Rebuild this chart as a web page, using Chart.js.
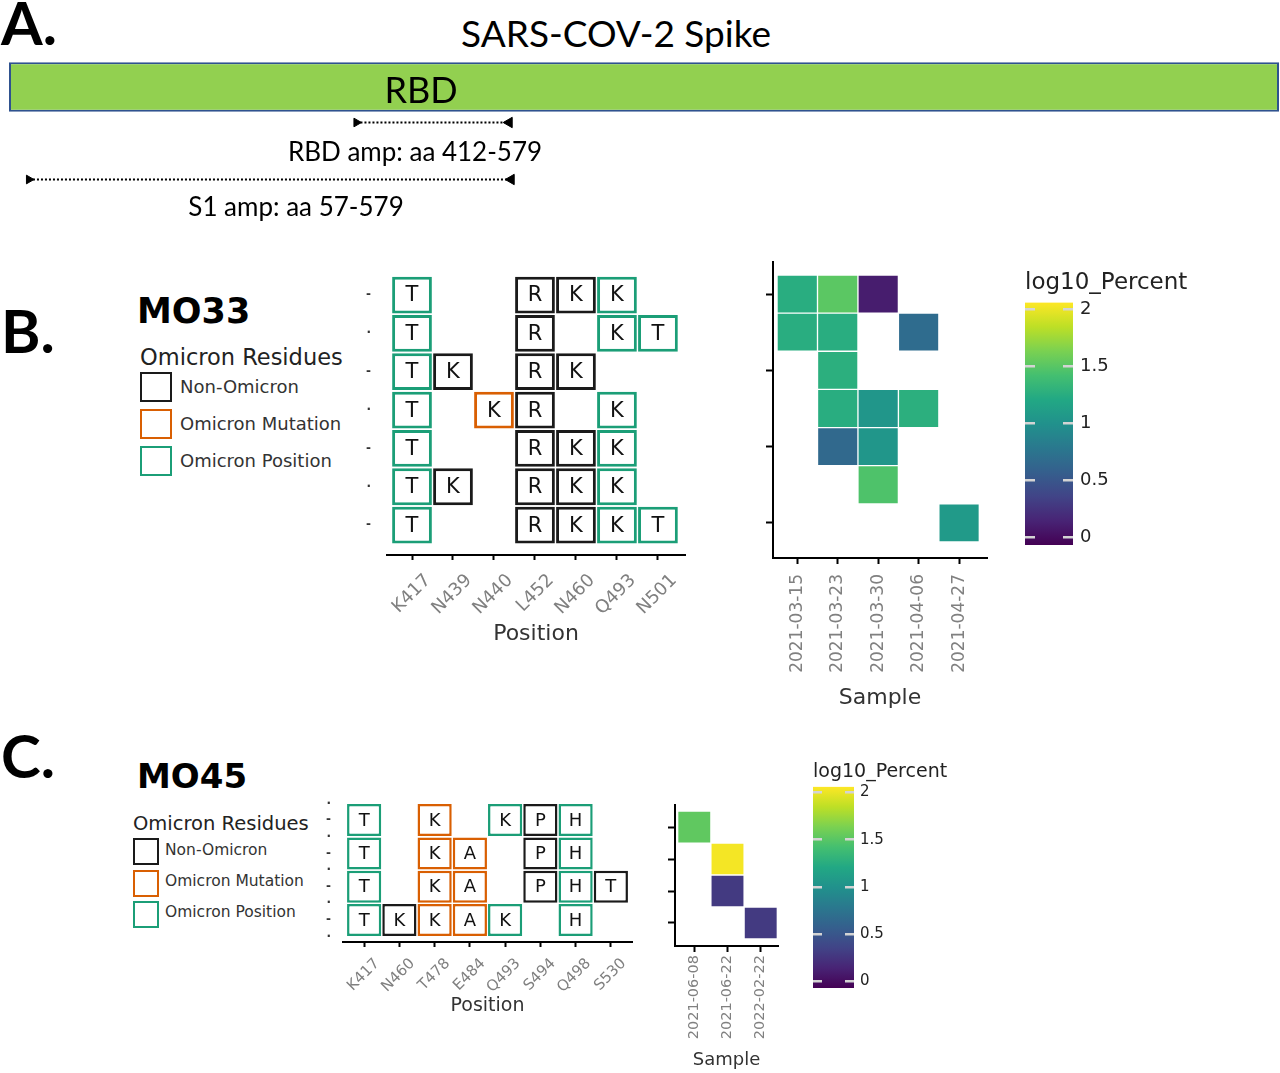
<!DOCTYPE html>
<html>
<head>
<meta charset="utf-8">
<script src="https://cdn.jsdelivr.net/npm/chart.js@4.4.0/dist/chart.umd.min.js"></script>
<style>
  body { margin: 0; width: 1280px; height: 1073px; position: relative; overflow: hidden; background: #fff; font-family: 'DejaVu Sans', sans-serif; }
  canvas { position: absolute; }
  .t { position: absolute; white-space: nowrap; line-height: 1; }
  .lato { font-family: Lato, 'Open Sans', sans-serif; }
  .c { transform: translateX(-50%); }
  .box { position: absolute; box-sizing: border-box; background: #fff; }
</style>
</head>
<body>
<!-- panel A -->
<div class="t lato" style="left:1px;top:-8px;font-size:60px;font-weight:bold;">A.</div>
<div class="t lato c" style="left:616px;top:14px;font-size:37px;">SARS-COV-2 Spike</div>
<canvas id="spike" width="1280" height="64" style="left:0;top:55px"></canvas>
<div class="t lato c" style="left:421px;top:71px;font-size:36px;">RBD</div>
<canvas id="amps" width="1280" height="114" style="left:0;top:94px"></canvas>
<div class="t lato c" style="left:415px;top:138px;font-size:26px;">RBD amp: aa 412-579</div>
<div class="t lato c" style="left:296px;top:193px;font-size:26px;">S1 amp: aa 57-579</div>

<!-- panel B -->
<div class="t lato" style="left:1px;top:300px;font-size:60px;font-weight:bold;">B.</div>
<div class="t" style="left:137px;top:294px;font-size:35px;font-weight:bold;">MO33</div>
<div class="t" style="left:140px;top:346px;font-size:22.5px;color:#222;">Omicron Residues</div>
<div class="box" style="left:140px;top:372px;width:32px;height:30px;border:2.5px solid #1a1a1a"></div>
<div class="box" style="left:140px;top:409px;width:32px;height:30px;border:2.5px solid #d95f02"></div>
<div class="box" style="left:140px;top:446px;width:32px;height:30px;border:2.5px solid #1b9e77"></div>
<div class="t" style="left:180px;top:378px;font-size:18px;color:#333;">Non-Omicron</div>
<div class="t" style="left:180px;top:415px;font-size:18px;color:#333;">Omicron Mutation</div>
<div class="t" style="left:180px;top:452px;font-size:18px;color:#333;">Omicron Position</div>
<canvas id="gridB" width="330" height="392" style="left:365px;top:255px"></canvas>
<canvas id="heatB" width="255" height="456" style="left:740px;top:255px"></canvas>
<canvas id="cbarB" width="190" height="276" style="left:1025px;top:269px"></canvas>

<!-- panel C -->
<div class="t lato" style="left:1px;top:725px;font-size:60px;font-weight:bold;">C.</div>
<div class="t" style="left:137px;top:759px;font-size:34px;font-weight:bold;">MO45</div>
<div class="t" style="left:133px;top:814px;font-size:19.5px;color:#222;">Omicron Residues</div>
<div class="box" style="left:133px;top:838px;width:26px;height:27px;border:2.5px solid #1a1a1a"></div>
<div class="box" style="left:133px;top:870px;width:26px;height:27px;border:2.5px solid #d95f02"></div>
<div class="box" style="left:133px;top:901px;width:26px;height:27px;border:2.5px solid #1b9e77"></div>
<div class="t" style="left:165px;top:843px;font-size:15.5px;color:#333;">Non-Omicron</div>
<div class="t" style="left:165px;top:874px;font-size:15.5px;color:#333;">Omicron Mutation</div>
<div class="t" style="left:165px;top:905px;font-size:15.5px;color:#333;">Omicron Position</div>
<canvas id="gridC" width="327" height="222" style="left:315px;top:795px"></canvas>
<canvas id="heatC" width="140" height="273" style="left:645px;top:798px"></canvas>
<canvas id="cbarC" width="170" height="227" style="left:813px;top:761px"></canvas>

<script>
// ---- panel A: spike schematic ----
const spikeRange = [1, 1273];
const ampNames = ['RBD amp', 'S1 amp'];
const ampAa = [[412, 579], [57, 579]];      // what the labels say
const ampDrawn = [[349, 502], [21, 504]];   // arrows are schematic, extents as drawn on the bar (aa units)

// ---- panel B: MO33 ----
const positionsB = ['K417', 'N439', 'N440', 'L452', 'N460', 'Q493', 'N501'];
const residuesB = [
  ['T', '', '', 'R', 'K', 'K', ''],
  ['T', '', '', 'R', '', 'K', 'T'],
  ['T', 'K', '', 'R', 'K', '', ''],
  ['T', '', 'K', 'R', '', 'K', ''],
  ['T', '', '', 'R', 'K', 'K', ''],
  ['T', 'K', '', 'R', 'K', 'K', ''],
  ['T', '', '', 'R', 'K', 'K', 'T']
];
// N = non-omicron, M = omicron mutation, P = omicron position
const statusB = [
  ['P', '', '', 'N', 'N', 'P', ''],
  ['P', '', '', 'N', '', 'P', 'P'],
  ['P', 'N', '', 'N', 'N', '', ''],
  ['P', '', 'M', 'N', '', 'P', ''],
  ['P', '', '', 'N', 'N', 'P', ''],
  ['P', 'N', '', 'N', 'N', 'P', ''],
  ['P', '', '', 'N', 'N', 'P', 'P']
];
const rowLabelsB = ['-', '·', '-', '·', '-', '·', '-'];
const samplesB = ['2021-03-15', '2021-03-23', '2021-03-30', '2021-04-06', '2021-04-27'];
const log10PctB = [
  [1.25, 1.51, 0.10, null, null],
  [1.25, 1.25, null, 0.68, null],
  [null, 1.27, null, null, null],
  [null, 1.25, 1.04, 1.27, null],
  [null, 0.65, 1.04, null, null],
  [null, null, 1.46, null, null],
  [null, null, null, null, 1.08]
];

// ---- panel C: MO45 ----
const positionsC = ['K417', 'N460', 'T478', 'E484', 'Q493', 'S494', 'Q498', 'S530'];
const residuesC = [
  ['T', '', 'K', '', 'K', 'P', 'H', ''],
  ['T', '', 'K', 'A', '', 'P', 'H', ''],
  ['T', '', 'K', 'A', '', 'P', 'H', 'T'],
  ['T', 'K', 'K', 'A', 'K', '', 'H', '']
];
const statusC = [
  ['P', '', 'M', '', 'P', 'N', 'P', ''],
  ['P', '', 'M', 'M', '', 'N', 'P', ''],
  ['P', '', 'M', 'M', '', 'N', 'P', 'N'],
  ['P', 'N', 'M', 'M', 'P', '', 'P', '']
];
const rowLabelsC = ['·', '-', '·', '-', '·', '-', '·', '-', '·'];  // half-row steps
const samplesC = ['2021-06-08', '2021-06-22', '2022-02-22'];
const log10PctC = [
  [1.53, null, null],
  [null, 2.03, null],
  [null, 0.29, null],
  [null, null, 0.29]
];

// colour bar
const cbLimits = [-0.07, 2.06];
const cbTicks = [0, 0.5, 1, 1.5, 2];

const residueColors = { N: '#1a1a1a', M: '#d95f02', P: '#1b9e77' };
const viridisStops = ['#440154', '#482475', '#414487', '#355f8d', '#2a788e', '#21918c',
                      '#22a884', '#44bf70', '#7ad151', '#bddf26', '#fde725'];
const FONT = 'DejaVu Sans';

function hexRgb(h) {
  return [1, 3, 5].map(i => parseInt(h.substr(i, 2), 16));
}
function viridis(t) {
  t = Math.min(1, Math.max(0, t));
  const p = t * (viridisStops.length - 1);
  const i = Math.min(Math.floor(p), viridisStops.length - 2);
  const f = p - i;
  const a = hexRgb(viridisStops[i]), b = hexRgb(viridisStops[i + 1]);
  const c = a.map((v, k) => Math.round(v + (b[k] - v) * f));
  return `rgb(${c[0]},${c[1]},${c[2]})`;
}

function noPad(s) {
  s.paddingLeft = 0; s.paddingRight = 0; s.paddingTop = 0; s.paddingBottom = 0;
}

const base = {
  responsive: false,
  animation: false,
  events: [],
  plugins: { legend: { display: false }, tooltip: { enabled: false } }
};

// letters written in the middle of each residue box
const residueLetters = {
  id: 'residueLetters',
  afterDatasetsDraw(chart, args, opts) {
    const ctx = chart.ctx;
    const ds = chart.data.datasets[0];
    ctx.save();
    ctx.font = opts.size + 'px "' + FONT + '"';
    ctx.fillStyle = '#111';
    ctx.textAlign = 'center';
    ctx.textBaseline = 'middle';
    chart.getDatasetMeta(0).data.forEach((bar, i) => {
      const p = bar.getCenterPoint();
      ctx.fillText(ds.data[i].aa, p.x, p.y + 1);
    });
    ctx.restore();
  }
};

// --- panel A charts ---
new Chart(document.getElementById('spike'), {
  type: 'bar',
  data: {
    labels: ['Spike'],
    datasets: [{
      data: [spikeRange],
      backgroundColor: '#92d050',
      borderColor: '#2f528f',
      borderWidth: 2,
      borderSkipped: false,
      barPercentage: 0.77,
      categoryPercentage: 1
    }]
  },
  options: {
    ...base,
    indexAxis: 'y',
    layout: { autoPadding: false, padding: { left: 9, right: 1 } },
    scales: {
      x: { type: 'linear', display: false, min: spikeRange[0], max: spikeRange[1] },
      y: { display: false }
    }
  }
});

new Chart(document.getElementById('amps'), {
  type: 'scatter',
  data: {
    datasets: ampNames.map((name, k) => ({
      label: name + ' (aa ' + ampAa[k].join('-') + ')',
      data: ampDrawn[k].map(x => ({ x: x, y: name })),
      showLine: true,
      borderColor: '#000',
      borderWidth: 2,
      borderDash: [2, 2],
      pointStyle: 'triangle',
      rotation: [90, -90],
      pointRadius: [5, 6],
      pointBackgroundColor: '#000',
      pointBorderColor: '#000',
      pointBorderWidth: 1
    }))
  },
  options: {
    ...base,
    layout: { autoPadding: false, padding: { left: 9, right: 1 } },
    scales: {
      x: { type: 'linear', display: false, min: spikeRange[0], max: spikeRange[1] },
      y: { type: 'category', labels: ampNames, offset: true, display: false }
    }
  }
});

// --- residue grid (panels B, C) ---
function residueGrid(id, positions, residues, status, rowLabels, o) {
  const cells = [];
  residues.forEach((row, r) => row.forEach((aa, c) => {
    if (aa) cells.push({ x: [c - 0.485, c + 0.485], y: r + 1, aa: aa, st: status[r][c] });
  }));
  return new Chart(document.getElementById(id), {
    type: 'bar',
    data: {
      datasets: [{
        data: cells,
        xAxisID: 'x',
        yAxisID: 'y',
        backgroundColor: '#fff',
        borderColor: ctx => ctx.raw ? residueColors[ctx.raw.st] : '#000',
        borderWidth: o.border,
        borderSkipped: false,
        barPercentage: 0.96,
        categoryPercentage: 1
      }]
    },
    options: {
      ...base,
      indexAxis: 'y',
      layout: { autoPadding: false, padding: { right: o.padRight } },
      plugins: { ...base.plugins, residueLetters: { size: o.letterSize } },
      scales: {
        x: {
          type: 'linear', min: o.xMin, max: o.xMax, offset: false,
          afterBuildTicks: s => { s.ticks = positions.map((p, i) => ({ value: i })); },
          ticks: {
            callback: (v, i) => positions[i], autoSkip: false, minRotation: 45, maxRotation: 45,
            labelOffset: o.labelShift,
            color: '#808080', font: { family: FONT, size: o.tickSize }, padding: o.tickPad
          },
          grid: { offset: false, drawOnChartArea: false, tickLength: 5, color: '#000', tickWidth: 2 },
          border: { color: '#000', width: 2 },
          title: { display: true, text: 'Position', color: '#333', font: { family: FONT, size: o.titleSize }, padding: 0 },
          afterFit: s => { s.height = o.xHeight; noPad(s); }
        },
        y: {
          type: 'linear', display: false, reverse: true, min: o.yMin, max: o.yMax, offset: false,
          afterBuildTicks: s => { s.ticks = []; }
        },
        yRows: {
          axis: 'y', type: 'linear', position: 'left', reverse: true, min: o.yMin, max: o.yMax, offset: false,
          afterBuildTicks: s => { s.ticks = rowLabels.map((l, i) => ({ value: o.rowStart + i * o.rowStep })); },
          ticks: { callback: (v, i) => rowLabels[i], color: '#333', font: { family: FONT, size: 12, weight: 'bold' }, padding: o.rowPad },
          grid: { display: false, offset: false },
          border: { display: false },
          afterFit: s => { s.width = o.yWidth; noPad(s); }
        }
      }
    },
    plugins: [residueLetters]
  });
}

// --- log10 percent heatmap ---
function heatmap(id, samples, values, o) {
  const cells = [];
  values.forEach((row, r) => row.forEach((v, c) => {
    if (v !== null) cells.push({ x: [c - 0.5, c + 0.5], y: r + 1, v: v });
  }));
  return new Chart(document.getElementById(id), {
    type: 'bar',
    data: {
      datasets: [{
        data: cells,
        backgroundColor: ctx => ctx.raw ? viridis((ctx.raw.v - cbLimits[0]) / (cbLimits[1] - cbLimits[0])) : '#fff',
        borderColor: 'rgba(255,255,255,0.35)',
        borderWidth: 1,
        borderSkipped: false,
        barPercentage: 1,
        categoryPercentage: 1
      }]
    },
    options: {
      ...base,
      indexAxis: 'y',
      layout: { autoPadding: false, padding: { top: o.padTop, right: o.padRight } },
      scales: {
        x: {
          type: 'linear', min: o.xMin, max: o.xMax, offset: false,
          afterBuildTicks: s => { s.ticks = samples.map((p, i) => ({ value: i })); },
          ticks: {
            callback: (v, i) => samples[i], autoSkip: false, minRotation: 90, maxRotation: 90,
            color: '#808080', font: { family: FONT, size: o.tickSize }, padding: o.tickPad
          },
          grid: { offset: false, drawOnChartArea: false, tickLength: 6, color: '#000', tickWidth: 2 },
          border: { color: '#000', width: 2 },
          title: { display: true, text: 'Sample', color: '#333', font: { family: FONT, size: o.titleSize }, padding: 0 },
          afterFit: s => { s.height = o.xHeight; noPad(s); }
        },
        y: {
          type: 'linear', reverse: true, min: o.yMin, max: o.yMax, offset: false,
          afterBuildTicks: s => { s.ticks = o.rowTicks.map(v => ({ value: v })); },
          ticks: { callback: () => '', padding: 0 },
          grid: { offset: false, drawOnChartArea: false, tickLength: 7, color: '#000', tickWidth: 2 },
          border: { color: '#000', width: 2 },
          afterFit: s => { s.width = o.yWidth; noPad(s); }
        }
      }
    }
  });
}

// --- viridis colour bar ---
function colorbar(id, o) {
  return new Chart(document.getElementById(id), {
    type: 'bar',
    data: {
      labels: ['log10_Percent'],
      datasets: [{
        data: [cbLimits],
        barPercentage: 1,
        categoryPercentage: 1,
        borderWidth: 0,
        backgroundColor: ctx => {
          const ch = ctx.chart, ys = ch.scales.y;
          if (!ys || !ch.chartArea) return viridis(0.5);
          const g = ch.ctx.createLinearGradient(0, ys.getPixelForValue(cbLimits[0]), 0, ys.getPixelForValue(cbLimits[1]));
          viridisStops.forEach((c, i) => g.addColorStop(i / (viridisStops.length - 1), c));
          return g;
        }
      }]
    },
    options: {
      ...base,
      layout: { autoPadding: false, padding: 0 },
      plugins: {
        ...base.plugins,
        title: {
          display: true, text: 'log10_Percent', align: 'start', color: '#222',
          font: { family: FONT, size: o.titleSize, weight: 'normal' }, padding: { top: 0, bottom: o.titleGap }
        }
      },
      scales: {
        x: { display: false },
        y: {
          position: 'right', min: cbLimits[0], max: cbLimits[1],
          afterBuildTicks: s => { s.ticks = cbTicks.map(v => ({ value: v })); },
          ticks: { callback: v => String(v), color: '#222', font: { family: FONT, size: o.tickSize }, padding: o.tickPad },
          grid: { z: 1, drawTicks: false, color: '#d4d4d4', lineWidth: 2.5 },
          border: { display: false, dash: o.dash },
          afterFit: s => { s.width = o.axisWidth; noPad(s); }
        }
      }
    }
  });
}

residueGrid('gridB', positionsB, residuesB, statusB, rowLabelsB, {
  xMin: -0.61, xMax: 6.66, yMin: -0.044, yMax: 7.78, rowStart: 1, rowStep: 1,
  xHeight: 92, yWidth: 22, padRight: 10, rowPad: 8, border: 3,
  letterSize: 21, tickSize: 18, tickPad: 10, labelShift: 16, titleSize: 22
});
heatmap('heatB', samplesB, log10PctB, {
  xMin: -0.6, xMax: 4.69, yMin: 0.16, yMax: 7.92, rowTicks: [1, 3, 5, 7],
  padTop: 7, padRight: 8, xHeight: 153, yWidth: 33, tickSize: 17, tickPad: 10, titleSize: 22
});
colorbar('cbarB', { titleSize: 23, titleGap: 6, tickSize: 18, tickPad: 7, axisWidth: 142, dash: [10, 28, 10] });

residueGrid('gridC', positionsC, residuesC, statusC, rowLabelsC, {
  xMin: -0.6, xMax: 7.6, yMin: 0.247, yMax: 4.66, rowStart: 0.5, rowStep: 0.5,
  xHeight: 75, yWidth: 28, padRight: 10, rowPad: 4, border: 2.5,
  letterSize: 18, tickSize: 15, tickPad: 8, labelShift: 13, titleSize: 19
});
heatmap('heatC', samplesC, log10PctC, {
  xMin: -0.58, xMax: 2.52, yMin: 0.31, yMax: 4.72, rowTicks: [1, 2, 3, 4],
  padTop: 7, padRight: 7, xHeight: 125, yWidth: 30, tickSize: 14.5, tickPad: 3, titleSize: 18
});
colorbar('cbarC', { titleSize: 19, titleGap: 3, tickSize: 15, tickPad: 6, axisWidth: 129, dash: [9, 23, 9] });
</script>
</body>
</html>
